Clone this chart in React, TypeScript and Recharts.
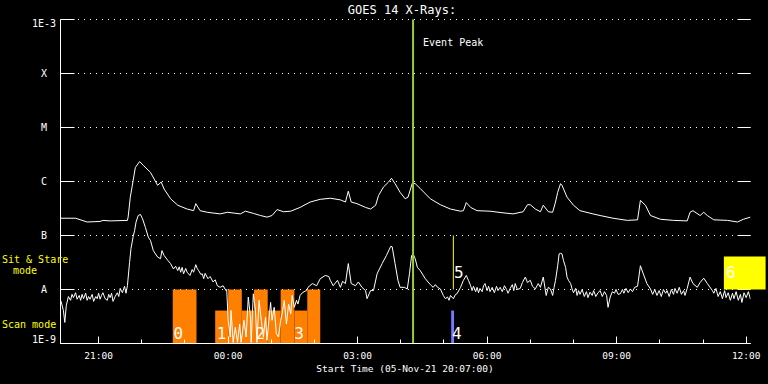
import React from 'react';
import {
  ComposedChart,
  Line,
  XAxis,
  YAxis,
  CartesianGrid,
  ReferenceArea,
  ReferenceLine,
  ReferenceDot,
} from 'recharts';

const FONT = "'DejaVu Sans Mono', monospace";

const TITLE = 'GOES 14 X-Rays:';
const X_TITLE = 'Start Time (05-Nov-21 20:07:00)';
const LEFT_NOTES = ['Sit & Stare', 'mode', 'Scan mode'];

// x values: minutes after 20:07 UT (05-Nov-21); y values: log10 of flux (W/m^2)
const timeDomain = [0, 959];
const hourTicks = [53, 113, 173, 233, 293, 353, 413, 473, 533, 593, 653, 713, 773, 833, 893, 953];
const hourTickLabels = ['21:00', '', '', '00:00', '', '', '03:00', '', '', '06:00', '', '', '09:00', '', '', '12:00'];

const levelTicks = [-9, -8, -7, -6, -5, -4, -3];
const levelLabels = ['1E-9', 'A', 'B', 'C', 'M', 'X', '1E-3'];

// long-wavelength channel (upper curve)
const longChannel: [number, number][] = [
  [0, -6.68], [21, -6.68], [37, -6.75], [55, -6.74], [59, -6.72], [69, -6.73], [93, -6.72], [94, -6.66],
  [97, -6.29], [101, -5.98], [104, -5.74], [110, -5.63], [115, -5.7], [125, -5.83], [135, -6.07], [140, -6.01],
  [144, -6.14], [153, -6.32], [163, -6.44], [176, -6.51], [185, -6.54], [188, -6.41], [194, -6.54], [204, -6.57],
  [222, -6.6], [232, -6.57], [250, -6.6], [257, -6.55], [268, -6.59], [278, -6.63], [287, -6.66], [294, -6.63],
  [301, -6.52], [310, -6.56], [320, -6.55], [333, -6.48], [347, -6.38], [361, -6.33], [375, -6.31], [389, -6.34],
  [396, -6.38], [400, -6.18], [404, -6.38], [412, -6.41], [424, -6.48], [431, -6.51], [438, -6.44], [442, -6.26],
  [449, -6.1], [456, -6.01], [460, -5.94], [465, -6.04], [472, -6.2], [479, -6.32], [483, -6.29], [489, -6.03],
  [493, -6.04], [500, -6.13], [514, -6.32], [528, -6.43], [542, -6.51], [556, -6.55], [560, -6.54], [564, -6.39],
  [570, -6.48], [579, -6.54], [597, -6.55], [615, -6.58], [629, -6.6], [643, -6.56], [649, -6.43], [653, -6.43],
  [660, -6.51], [667, -6.56], [671, -6.44], [678, -6.56], [684, -6.57], [688, -6.38], [691, -6.2], [695, -6.04],
  [697, -6.07], [704, -6.29], [713, -6.44], [722, -6.54], [740, -6.6], [750, -6.63], [768, -6.68], [788, -6.72],
  [802, -6.71], [806, -6.35], [813, -6.44], [820, -6.63], [834, -6.7], [852, -6.72], [871, -6.73], [875, -6.57],
  [879, -6.54], [889, -6.63], [894, -6.57], [899, -6.63], [908, -6.71], [927, -6.72], [941, -6.75], [949, -6.7],
  [959, -6.66],
];

// short-wavelength channel (lower, noisy curve)
const shortChannel: [number, number][] = [
  [0, -8.2], [1, -8.23], [4, -8.39], [6, -8.61], [8, -8.3], [11, -8.13], [14, -8.2], [16, -8.09], [18, -8.15], [21, -8.06],
  [23, -8.18], [26, -8.11], [28, -8.2], [30, -8.09], [32, -8.17], [35, -8.07], [37, -8.2], [39, -8.13], [41, -8.18], [44, -8.09],
  [46, -8.22], [49, -8.13], [51, -8.17], [53, -8.07], [55, -8.18], [57, -8.11], [59, -8.06], [62, -8.17], [65, -8.2], [67, -8.09],
  [69, -8.15], [71, -8.07], [73, -8.22], [76, -8.13], [79, -8.06], [81, -8.13], [83, -7.98], [86, -8.06], [89, -7.94], [91, -8.07],
  [93, -7.93], [96, -7.5], [98, -7.24], [101, -7.02], [103, -6.91], [105, -6.75], [108, -6.63], [111, -6.61], [114, -6.69], [118, -6.85],
  [122, -7.03], [125, -7.09], [129, -7.28], [135, -7.4], [139, -7.43], [141, -7.28], [144, -7.37], [149, -7.46], [153, -7.52], [157, -7.62],
  [160, -7.57], [163, -7.65], [165, -7.58], [167, -7.68], [169, -7.59], [171, -7.71], [174, -7.61], [176, -7.68], [180, -7.74], [183, -7.63],
  [185, -7.68], [188, -7.54], [190, -7.61], [192, -7.65], [195, -7.72], [197, -7.71], [199, -7.8], [201, -7.7], [205, -7.8], [208, -7.76],
  [212, -7.86], [215, -7.82], [218, -7.93], [222, -7.96], [226, -7.93], [230, -8.02], [231, -8.0], [233, -8.57], [236, -8.88], [237, -8.39],
  [240, -8.98], [243, -8.7], [246, -8.98], [249, -8.64], [251, -8.98], [255, -8.57], [258, -8.88], [261, -8.14], [264, -8.51], [265, -8.98],
  [268, -8.08], [271, -8.39], [273, -8.98], [276, -8.2], [279, -8.57], [282, -8.88], [285, -8.51], [287, -8.94], [292, -8.24], [294, -8.57],
  [297, -8.33], [300, -8.82], [303, -8.88], [306, -8.57], [308, -8.45], [311, -8.2], [314, -8.64], [317, -8.27], [320, -8.45], [322, -8.11],
  [325, -8.33], [328, -8.2], [330, -8.27], [333, -8.11], [337, -8.05], [342, -8.02], [344, -7.96], [350, -7.89], [356, -7.93], [361, -7.8],
  [368, -7.74], [373, -7.76], [375, -7.83], [379, -7.93], [385, -7.83], [389, -7.96], [392, -7.85], [396, -7.89], [400, -7.52], [404, -7.89],
  [410, -7.93], [414, -7.86], [419, -7.96], [424, -8.02], [426, -8.17], [431, -8.02], [435, -8.02], [440, -7.71], [447, -7.52], [453, -7.37],
  [459, -7.2], [461, -7.21], [465, -7.52], [469, -7.83], [472, -7.96], [478, -7.96], [482, -7.99], [485, -7.71], [488, -7.37], [490, -7.34],
  [493, -7.43], [496, -7.59], [500, -7.65], [507, -7.8], [514, -7.91], [518, -7.96], [521, -7.91], [524, -7.96], [528, -7.99], [532, -8.11],
  [535, -8.17], [538, -8.14], [540, -8.2], [542, -8.11], [546, -8.17], [549, -8.09], [551, -8.08], [556, -7.96], [560, -7.83], [564, -7.74],
  [567, -7.83], [570, -7.93], [572, -8.02], [574, -7.94], [577, -8.04], [579, -7.96], [581, -8.06], [583, -7.98], [586, -8.04], [588, -7.93],
  [590, -7.89], [593, -8.02], [595, -7.94], [597, -8.04], [600, -7.96], [603, -8.06], [606, -7.94], [608, -8.02], [611, -7.96], [614, -8.04],
  [617, -7.93], [620, -8.0], [622, -8.07], [625, -7.98], [628, -7.91], [630, -8.02], [632, -7.89], [635, -8.0], [639, -7.98], [642, -7.87],
  [646, -7.77], [649, -7.87], [653, -7.83], [656, -7.94], [660, -7.99], [664, -7.89], [667, -7.96], [671, -7.77], [675, -8.11], [678, -7.96],
  [681, -7.99], [684, -8.11], [686, -7.96], [688, -7.83], [691, -7.56], [693, -7.34], [695, -7.33], [697, -7.34], [699, -7.46], [702, -7.59],
  [704, -7.77], [706, -7.83], [709, -7.89], [711, -7.99], [713, -8.06], [716, -7.98], [718, -8.11], [720, -8.02], [722, -8.09], [725, -8.0],
  [728, -8.13], [731, -8.04], [733, -8.15], [736, -8.05], [739, -8.11], [741, -8.02], [744, -8.13], [747, -8.06], [750, -8.02], [753, -8.13],
  [756, -8.04], [759, -8.11], [761, -8.33], [764, -8.14], [767, -8.04], [770, -8.07], [772, -8.0], [775, -8.09], [778, -8.08], [781, -8.0],
  [783, -8.07], [786, -7.98], [789, -8.06], [792, -7.99], [795, -8.04], [798, -7.96], [802, -7.94], [806, -7.56], [810, -7.71], [815, -7.89],
  [820, -7.99], [823, -8.09], [826, -8.0], [829, -8.11], [832, -8.02], [835, -8.13], [838, -8.0], [841, -8.07], [843, -8.02], [846, -8.13],
  [849, -8.0], [852, -8.09], [854, -7.98], [857, -8.07], [860, -7.96], [863, -8.09], [866, -8.02], [868, -8.11], [871, -7.98], [875, -7.77],
  [879, -7.89], [885, -7.96], [889, -7.87], [894, -7.79], [899, -7.89], [906, -8.02], [908, -8.07], [911, -7.98], [914, -8.13], [917, -8.04],
  [920, -8.17], [923, -8.02], [925, -8.15], [928, -8.06], [931, -8.2], [934, -8.07], [936, -8.17], [939, -8.04], [942, -8.2], [945, -8.09],
  [947, -8.24], [950, -8.06], [953, -8.15], [956, -8.04], [959, -8.18],
];

// scan-mode intervals (orange)
const scanStart = [156, 215, 233, 252, 269, 288, 306, 325, 343];
const scanEnd = [189, 233, 252, 269, 288, 306, 325, 343, 361];
const scanTop = [-8.0, -8.39, -8.0, -8.39, -8.0, -8.39, -8.0, -8.39, -8.0];

// numbered markers
const markerNames = ['0', '1', '2', '3', '4', '5', '6'];
const markerTimes = [157, 217, 271, 325, 544, 547, 925];
const markerLevels = [-8.81, -8.81, -8.81, -8.81, -8.81, -7.69, -7.68];

const blueBar = { start: 543, end: 547, top: -8.39 };
const yellowLine = { time: 546, from: -7.0, to: -8.0 };
const sitStareBox = { start: 922, end: 980, bottom: -8.0, top: -7.39 };
const eventPeak = { time: 490, labelLevel: -3.43, label: 'Event Peak' };

const longData = longChannel.map(([t, v]) => ({ t, v }));
const shortData = shortChannel.map(([t, v]) => ({ t, v }));

const GridLine = (p: any) => {
  const { x1, x2, y1 } = p;
  return (
    <g key={p.key}>
      <line x1={x1} x2={x2} y1={y1} y2={y1} stroke="#fff" strokeDasharray="1 5" strokeDashoffset={0.5} />
      <line x1={x1} x2={x1 + 14} y1={y1} y2={y1} stroke="#fff" />
      <line x1={x2 - 13} x2={x2} y1={y1} y2={y1} stroke="#fff" />
    </g>
  );
};

const BottomTick = (p: any) => {
  const i = hourTicks.indexOf(p.payload.value);
  const lab = hourTickLabels[i] || '';
  const x = Math.round(p.x - 0.5) + 0.5;
  const major = lab !== '';
  return (
    <g>
      <line x1={x} x2={x} y1={p.y} y2={p.y - (major ? 7 : 4)} stroke="#fff" />
      {major && (
        <text x={p.x} y={p.y + 15.5} textAnchor="middle" fill="#fff" fontFamily={FONT} fontSize={9.5}>
          {lab}
        </text>
      )}
    </g>
  );
};

const TopTick = (p: any) => {
  const i = hourTicks.indexOf(p.payload.value);
  const major = (hourTickLabels[i] || '') !== '';
  const x = Math.round(p.x - 0.5) + 0.5;
  return <line x1={x} x2={x} y1={p.y} y2={p.y + (major ? 7 : 4)} stroke="#fff" />;
};

const LeftTick = (p: any) => {
  const v = p.payload.value;
  const i = levelTicks.indexOf(v);
  const lab = levelLabels[i] || '';
  let y = p.y + 3.7;
  if (i === levelTicks.length - 1) y = p.y + 7.5;
  if (i === 0) y = p.y - 0.3;
  return (
    <text x={p.x - 16.5} y={y} textAnchor="middle" fill="#fff" fontFamily={FONT} fontSize={10}>
      {lab}
    </text>
  );
};

export default function App() {
  return (
    <div style={{ position: 'absolute', left: 0, top: 0, width: 768, height: 384, background: '#000', overflow: 'hidden' }}>
      <ComposedChart width={768} height={384} margin={{ top: 19.5, right: 17.5, bottom: 0, left: 0.5 }}>
        <CartesianGrid vertical={false} horizontal={GridLine} stroke="#fff" />
        <XAxis
          dataKey="t"
          type="number"
          domain={timeDomain}
          allowDataOverflow
          ticks={hourTicks}
          interval={0}
          tick={BottomTick}
          tickLine={false}
          tickSize={0}
          tickMargin={0}
          height={40.5}
          axisLine={{ stroke: '#fff' }}
        />
        <XAxis
          xAxisId="top"
          orientation="top"
          dataKey="t"
          type="number"
          domain={timeDomain}
          allowDataOverflow
          ticks={hourTicks}
          interval={0}
          tick={TopTick}
          tickLine={false}
          tickSize={0}
          tickMargin={0}
          height={0}
          axisLine={{ stroke: '#fff' }}
        />
        <YAxis
          type="number"
          domain={[levelTicks[0], levelTicks[levelTicks.length - 1]]}
          allowDataOverflow
          ticks={levelTicks}
          interval={0}
          width={60}
          tick={LeftTick}
          tickLine={false}
          tickSize={0}
          tickMargin={0}
          axisLine={{ stroke: '#fff' }}
        />
        <YAxis
          yAxisId="right"
          orientation="right"
          type="number"
          domain={[levelTicks[0], levelTicks[levelTicks.length - 1]]}
          allowDataOverflow
          width={0}
          tick={false}
          tickLine={false}
          axisLine={{ stroke: '#fff' }}
        />

        {scanStart.map((s, i) => (
          <ReferenceArea
            key={'scan' + i}
            x1={s}
            x2={scanEnd[i]}
            y1={levelTicks[0]}
            y2={scanTop[i]}
            fill="#ff8000"
            fillOpacity={1}
            stroke="none"
          />
        ))}
        <ReferenceArea
          x1={blueBar.start}
          x2={blueBar.end}
          y1={levelTicks[0]}
          y2={blueBar.top}
          fill="#7878ff"
          fillOpacity={1}
          stroke="none"
        />
        <ReferenceArea
          x1={sitStareBox.start}
          x2={sitStareBox.end}
          y1={sitStareBox.bottom}
          y2={sitStareBox.top}
          fill="#ffff00"
          fillOpacity={1}
          stroke="none"
          ifOverflow="visible"
        />
        <ReferenceLine
          segment={[
            { x: yellowLine.time, y: yellowLine.from },
            { x: yellowLine.time, y: yellowLine.to },
          ]}
          stroke="#ffff00"
          strokeWidth={1}
        />

        <Line data={longData} dataKey="v" type="linear" stroke="#fff" strokeWidth={1} dot={false} isAnimationActive={false} />
        <Line data={shortData} dataKey="v" type="linear" stroke="#fff" strokeWidth={1} dot={false} isAnimationActive={false} />

        <ReferenceLine x={eventPeak.time} stroke="#9acd32" strokeWidth={2} />
        <ReferenceDot
          x={eventPeak.time}
          y={eventPeak.labelLevel}
          r={0}
          fill="none"
          stroke="none"
          label={{ value: eventPeak.label, position: 'right', offset: 10, fill: '#fff', fontSize: 10, fontFamily: FONT }}
        />
        {markerNames.map((m, i) => (
          <ReferenceDot
            key={'mk' + i}
            x={markerTimes[i]}
            y={markerLevels[i]}
            r={0}
            fill="none"
            stroke="none"
            label={{ value: m, position: 'right', offset: 0, fill: '#fff', fontSize: 16, fontFamily: FONT }}
          />
        ))}
      </ComposedChart>
      <svg
        width={768}
        height={384}
        style={{ position: 'absolute', left: 0, top: 0, pointerEvents: 'none' }}
      >
        <text x={402} y={14} textAnchor="middle" fill="#fff" fontFamily={FONT} fontSize={12}>
          {TITLE}
        </text>
        <text x={2} y={262.5} fill="#ffff00" fontFamily={FONT} fontSize={10}>
          {LEFT_NOTES[0]}
        </text>
        <text x={13} y={274} fill="#ffff00" fontFamily={FONT} fontSize={10}>
          {LEFT_NOTES[1]}
        </text>
        <text x={2} y={328} fill="#ffff00" fontFamily={FONT} fontSize={10}>
          {LEFT_NOTES[2]}
        </text>
        <text x={405} y={372} textAnchor="middle" fill="#fff" fontFamily={FONT} fontSize={9.5}>
          {X_TITLE}
        </text>
      </svg>
    </div>
  );
}
